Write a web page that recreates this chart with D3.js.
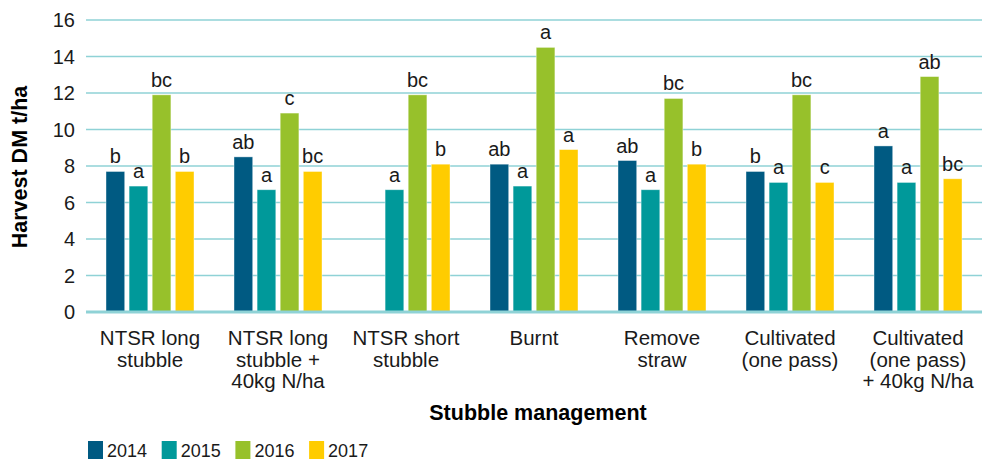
<!DOCTYPE html>
<html>
<head>
<meta charset="utf-8">
<script src="https://cdn.jsdelivr.net/npm/d3@7"></script>
<style>
  body { margin: 0; background: #fff; }
  svg { display: block; font-family: "Liberation Sans", Arial, sans-serif; }
</style>
</head>
<body>
<svg id="chart" width="984" height="459"></svg>
<script>
// treatments on the x axis (line breaks as in the original)
const categories = [
    ["NTSR long", "stubble"],
    ["NTSR long", "stubble +", "40kg N/ha"],
    ["NTSR short", "stubble"],
    ["Burnt"],
    ["Remove", "straw"],
    ["Cultivated", "(one pass)"],
    ["Cultivated", "(one pass)", "+ 40kg N/ha"]
];
const years = ["2014", "2015", "2016", "2017"];
const colors = ["#005a82", "#00999a", "#97c12b", "#ffcc00"];

// harvest DM t/ha per year, one value per treatment (null = no bar)
const v2014 = [7.7, 8.5, null, 8.1, 8.3, 7.7, 9.1];
const v2015 = [6.9, 6.7, 6.7, 6.9, 6.7, 7.1, 7.1];
const v2016 = [11.9, 10.9, 11.9, 14.5, 11.7, 11.9, 12.9];
const v2017 = [7.7, 7.7, 8.1, 8.9, 8.1, 7.1, 7.3];

// significance letters
const l2014 = ["b", "ab", "", "ab", "ab", "b", "a"];
const l2015 = ["a", "a", "a", "a", "a", "a", "a"];
const l2016 = ["bc", "c", "bc", "a", "bc", "bc", "ab"];
const l2017 = ["b", "bc", "b", "a", "b", "c", "bc"];

const yTicks = [0, 2, 4, 6, 8, 10, 12, 14, 16];

const values = [v2014, v2015, v2016, v2017];
const letters = [l2014, l2015, l2016, l2017];

let svg = d3.select("#chart");

let margin = {top: 20, right: 2, bottom: 147, left: 86},
    width = 984 - margin.left - margin.right,
    height = 459 - margin.top - margin.bottom;

let g = svg.append("g")
    .attr("transform", "translate(" + margin.left + "," + margin.top + ")");

let x0 = d3.scaleBand()
    .domain(d3.range(categories.length))
    .range([0, width])
    .paddingInner(0)
    .paddingOuter(0);

let x1 = d3.scaleBand()
    .domain(years)
    .range([20, x0.bandwidth() - 20])
    .paddingInner(0.19);

let y = d3.scaleLinear()
    .domain([0, 16])
    .range([height, 0]);

// gridlines
g.selectAll(".grid")
    .data(yTicks.filter(d => d > 0))
    .enter().append("line")
    .attr("x1", 0)
    .attr("x2", width)
    .attr("y1", d => y(d))
    .attr("y2", d => y(d))
    .attr("stroke", "#8fd2d6")
    .attr("stroke-width", 1.5);

// y tick labels
g.selectAll(".ytick")
    .data(yTicks)
    .enter().append("text")
    .attr("x", -11)
    .attr("y", d => y(d))
    .attr("dy", "0.35em")
    .attr("text-anchor", "end")
    .attr("font-size", 20)
    .attr("fill", "#1a1a1a")
    .text(d => d);

// bars
let groups = g.selectAll(".grp")
    .data(categories)
    .enter().append("g")
    .attr("transform", (d, i) => "translate(" + x0(i) + ",0)");

groups.each(function (c, i) {
    let rows = years.map((yr, k) => ({yr: yr, k: k, v: values[k][i], lab: letters[k][i]}))
        .filter(d => d.v != null);

    let grp = d3.select(this);

    grp.selectAll("rect")
        .data(rows)
        .enter().append("rect")
        .attr("x", d => x1(d.yr))
        .attr("width", x1.bandwidth())
        .attr("y", d => y(d.v))
        .attr("height", d => y(0) - y(d.v))
        .attr("fill", d => colors[d.k])
        .attr("stroke", "#ffffff")
        .attr("stroke-opacity", 0.5)
        .attr("stroke-width", 0.8);

    grp.selectAll(".lab")
        .data(rows)
        .enter().append("text")
        .attr("x", d => x1(d.yr) + x1.bandwidth() / 2)
        .attr("y", d => y(d.v) - 8)
        .attr("text-anchor", "middle")
        .attr("font-size", 20)
        .attr("fill", "#1a1a1a")
        .text(d => d.lab);

    // category label
    let t = grp.append("text")
        .attr("x", x0.bandwidth() / 2)
        .attr("y", height + 33)
        .attr("text-anchor", "middle")
        .attr("font-size", 20.5)
        .attr("fill", "#1a1a1a");
    c.forEach((line, j) => {
        t.append("tspan")
            .attr("x", x0.bandwidth() / 2)
            .attr("y", height + 33 + j * 21.7)
            .text(line);
    });
});

// baseline
g.append("line")
    .attr("x1", 0)
    .attr("x2", width)
    .attr("y1", y(0))
    .attr("y2", y(0))
    .attr("stroke", "#8fd2d6")
    .attr("stroke-width", 3);

// axis titles
g.append("text")
    .attr("transform", "rotate(-90)")
    .attr("x", -height / 2 - 1)
    .attr("y", -59)
    .attr("text-anchor", "middle")
    .attr("font-size", 21.5)
    .attr("font-weight", "bold")
    .attr("fill", "#000")
    .text("Harvest DM t/ha");

g.append("text")
    .attr("x", width / 2 + 4)
    .attr("y", height + 108)
    .attr("text-anchor", "middle")
    .attr("font-size", 21.5)
    .attr("font-weight", "bold")
    .attr("fill", "#000")
    .text("Stubble management");

// legend
let legend = svg.append("g")
    .attr("transform", "translate(88,441)");

let items = legend.selectAll(".item")
    .data(years)
    .enter().append("g")
    .attr("transform", (d, i) => "translate(" + (i * 73.7) + ",0)");

items.append("rect")
    .attr("width", 15)
    .attr("height", 18)
    .attr("fill", (d, i) => colors[i]);

items.append("text")
    .attr("x", 19)
    .attr("y", 15.5)
    .attr("font-size", 18)
    .attr("fill", "#1a1a1a")
    .text(d => d);
</script>
</body>
</html>
